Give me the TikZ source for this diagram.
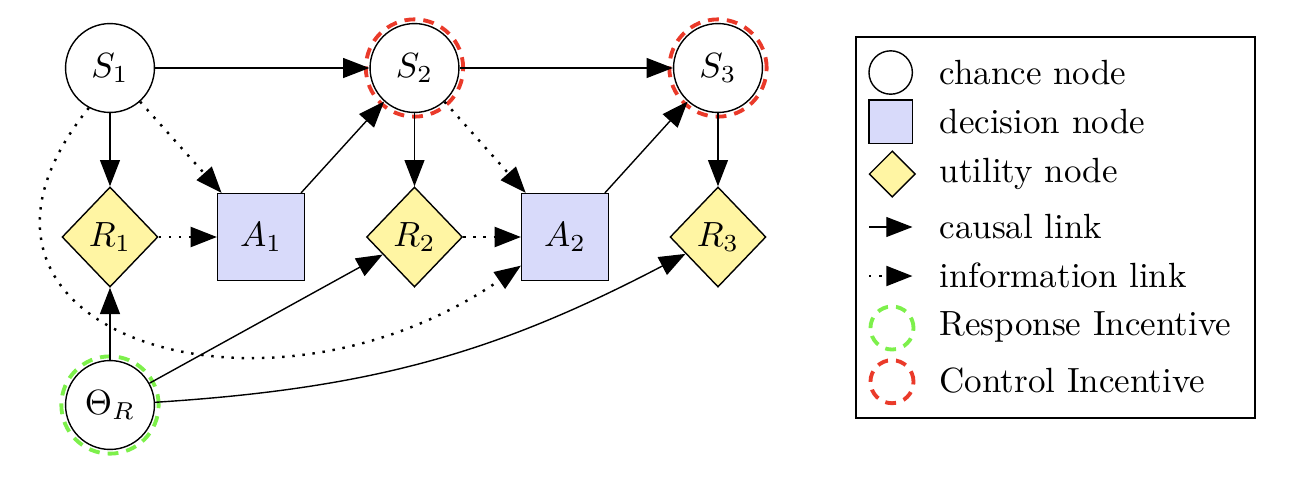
\documentclass[tikz,border=0pt]{standalone}
\usetikzlibrary{shapes.geometric, arrows.meta}
\definecolor{decfill}{RGB}{216,218,250}
\definecolor{utilfill}{RGB}{255,245,163}
\definecolor{ctrlred}{RGB}{234,58,42}
\definecolor{respgreen}{RGB}{125,240,75}
\tikzset{
  chance/.style={circle, draw, minimum size=25.4pt, inner sep=0pt},
  decision/.style={rectangle, draw, fill=decfill, minimum size=24.8pt, inner sep=0pt},
  utility/.style={diamond, draw, fill=utilfill, minimum width=27.4pt, minimum height=28.6pt, inner sep=0pt},
  causal/.style={-{Triangle[length=7.5pt,width=5.7pt]}},
  info/.style={causal, line width=0.7pt, dash pattern=on 0.7pt off 2.2pt},
  ctrlinc/.style={circle, draw=ctrlred, line width=1.1pt, dash pattern=on 3.1pt off 2.3pt, inner sep=0pt},
  respinc/.style={circle, draw=respgreen, line width=1.1pt, dash pattern=on 3.1pt off 2.3pt, inner sep=0pt},
  legtext/.style={anchor=base west, inner sep=0pt},
}
\begin{document}
\begin{tikzpicture}[x=0.285714pt, y=-0.285714pt]
\useasboundingbox (0,0) rectangle (1312,496);
% main nodes
\node[chance] (S1) at (110,68) {$S_1$};
\node[chance] (S2) at (414.5,68) {$S_2$};
\node[chance] (S3) at (718,68) {$S_3$};
\node[utility] (R1) at (110,237) {$R_1$};
\node[utility] (R2) at (414.5,237) {$R_2$};
\node[utility] (R3) at (718,237) {$R_3$};
\node[decision] (A1) at (261,237) {$A_1$};
\node[decision] (A2) at (565,237) {$A_2$};
\node[chance] (T) at (110,405) {$\Theta_R$};
% incentive rings
\node[ctrlinc, minimum size=27.8pt] (S2c) at (S2) {};
\node[ctrlinc, minimum size=27.8pt] (S3c) at (S3) {};
\node[respinc, minimum size=27.8pt] (Tc) at (T) {};
% causal links
\draw[causal] (S1) -- (S2);
\draw[causal] (S2) -- (S3);
\draw[causal] (S1) -- (R1);
\draw[causal] (S2) -- (R2);
\draw[causal] (S3) -- (R3);
\draw[causal] (A1) -- (S2);
\draw[causal] (A2) -- (S3);
\draw[causal] (T) -- (R1);
\draw[causal] (T) -- (R2);
\draw[causal] (T) to[bend right=12] (R3);
% information links
\draw[info] (S1) -- (A1);
\draw[info] (S2) -- (A2);
\draw[info] (R1) -- (A1);
\draw[info] (R2) -- (A2);
\draw[info] (S1.242) .. controls (-90,330) and (260,445) .. (A2.213);
% legend
\draw (856,37) rectangle (1255,418);
\node[circle, draw, minimum size=12.4pt, inner sep=0pt] (Lc) at (890.7,72.5) {};
\node[rectangle, draw, fill=decfill, minimum size=12.3pt, inner sep=0pt] (Ld) at (890.7,121.7) {};
\node[diamond, draw, fill=utilfill, minimum size=13.2pt, inner sep=0pt] (Lu) at (892.3,174) {};
\coordinate (Lca) at (869,227);
\coordinate (Lcb) at (912.5,227);
\draw[causal] (Lca) -- (Lcb);
\coordinate (Lia) at (869,276);
\coordinate (Lib) at (912.5,276);
\draw[info] (Lia) -- (Lib);
\node[respinc, minimum size=12.3pt] (Lr) at (892,328) {};
\node[ctrlinc, minimum size=12.3pt] (Lk) at (892,381.7) {};
\node[legtext] (t1) at (939,84) {chance node};
\node[legtext] (t2) at (939,133) {decision node};
\node[legtext] (t3) at (939,182.5) {utility node};
\node[legtext] (t4) at (939,238) {causal link};
\node[legtext] (t5) at (939,287.5) {information link};
\node[legtext] (t6) at (939,335) {Response Incentive};
\node[legtext] (t7) at (939,392.5) {Control Incentive};
\end{tikzpicture}
\end{document}
